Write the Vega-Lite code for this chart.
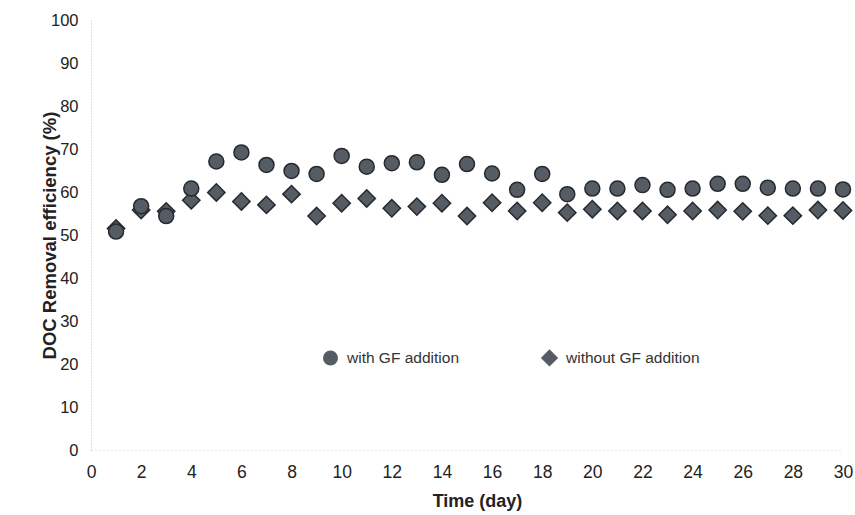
{
  "$schema": "https://vega.github.io/schema/vega-lite/v6.json",
  "width": 752,
  "height": 430,
  "autosize": {"type": "none"},
  "padding": {"left": 91, "top": 20, "right": 12, "bottom": 65},
  "background": "white",
  "config": {
    "view": {"stroke": null},
    "font": "Liberation Sans"
  },
  "data": {
    "values": [
      {"day": 1, "series": "without GF addition", "eff": 51.5},
      {"day": 2, "series": "without GF addition", "eff": 55.8},
      {"day": 3, "series": "without GF addition", "eff": 55.5},
      {"day": 4, "series": "without GF addition", "eff": 58.1},
      {"day": 5, "series": "without GF addition", "eff": 59.9},
      {"day": 6, "series": "without GF addition", "eff": 57.8},
      {"day": 7, "series": "without GF addition", "eff": 57.0},
      {"day": 8, "series": "without GF addition", "eff": 59.5},
      {"day": 9, "series": "without GF addition", "eff": 54.4},
      {"day": 10, "series": "without GF addition", "eff": 57.4},
      {"day": 11, "series": "without GF addition", "eff": 58.5},
      {"day": 12, "series": "without GF addition", "eff": 56.2},
      {"day": 13, "series": "without GF addition", "eff": 56.6},
      {"day": 14, "series": "without GF addition", "eff": 57.4},
      {"day": 15, "series": "without GF addition", "eff": 54.4},
      {"day": 16, "series": "without GF addition", "eff": 57.5},
      {"day": 17, "series": "without GF addition", "eff": 55.6},
      {"day": 18, "series": "without GF addition", "eff": 57.5},
      {"day": 19, "series": "without GF addition", "eff": 55.2},
      {"day": 20, "series": "without GF addition", "eff": 56.0},
      {"day": 21, "series": "without GF addition", "eff": 55.6},
      {"day": 22, "series": "without GF addition", "eff": 55.6},
      {"day": 23, "series": "without GF addition", "eff": 54.7},
      {"day": 24, "series": "without GF addition", "eff": 55.6},
      {"day": 25, "series": "without GF addition", "eff": 55.8},
      {"day": 26, "series": "without GF addition", "eff": 55.5},
      {"day": 27, "series": "without GF addition", "eff": 54.5},
      {"day": 28, "series": "without GF addition", "eff": 54.5},
      {"day": 29, "series": "without GF addition", "eff": 55.8},
      {"day": 30, "series": "without GF addition", "eff": 55.7},
      {"day": 1, "series": "with GF addition", "eff": 50.8},
      {"day": 2, "series": "with GF addition", "eff": 56.7},
      {"day": 3, "series": "with GF addition", "eff": 54.4},
      {"day": 4, "series": "with GF addition", "eff": 60.8},
      {"day": 5, "series": "with GF addition", "eff": 67.1},
      {"day": 6, "series": "with GF addition", "eff": 69.2},
      {"day": 7, "series": "with GF addition", "eff": 66.3},
      {"day": 8, "series": "with GF addition", "eff": 64.9},
      {"day": 9, "series": "with GF addition", "eff": 64.2},
      {"day": 10, "series": "with GF addition", "eff": 68.4},
      {"day": 11, "series": "with GF addition", "eff": 65.9},
      {"day": 12, "series": "with GF addition", "eff": 66.7},
      {"day": 13, "series": "with GF addition", "eff": 66.9},
      {"day": 14, "series": "with GF addition", "eff": 64.0},
      {"day": 15, "series": "with GF addition", "eff": 66.5},
      {"day": 16, "series": "with GF addition", "eff": 64.3},
      {"day": 17, "series": "with GF addition", "eff": 60.5},
      {"day": 18, "series": "with GF addition", "eff": 64.2},
      {"day": 19, "series": "with GF addition", "eff": 59.5},
      {"day": 20, "series": "with GF addition", "eff": 60.8},
      {"day": 21, "series": "with GF addition", "eff": 60.8},
      {"day": 22, "series": "with GF addition", "eff": 61.6},
      {"day": 23, "series": "with GF addition", "eff": 60.5},
      {"day": 24, "series": "with GF addition", "eff": 60.8},
      {"day": 25, "series": "with GF addition", "eff": 61.9},
      {"day": 26, "series": "with GF addition", "eff": 61.9},
      {"day": 27, "series": "with GF addition", "eff": 61.0},
      {"day": 28, "series": "with GF addition", "eff": 60.8},
      {"day": 29, "series": "with GF addition", "eff": 60.8},
      {"day": 30, "series": "with GF addition", "eff": 60.6}
    ]
  },
  "mark": {"type": "point", "filled": true, "fill": "#565c64", "stroke": "#262a2e", "strokeWidth": 1.5, "opacity": 1, "fillOpacity": 1},
  "encoding": {
    "x": {
      "field": "day", "type": "quantitative",
      "scale": {"domain": [0, 30], "nice": false, "zero": false},
      "axis": {
        "title": "Time (day)", "titleFontSize": 18, "titleFontWeight": "bold", "titleColor": "#222", "titlePadding": 12, "titleX": 386,
        "values": [0, 2, 4, 6, 8, 10, 12, 14, 16, 18, 20, 22, 24, 26, 28, 30],
        "labelFontSize": 17.5, "labelColor": "#222", "labelPadding": 13, "labelFlush": false, "labelOverlap": false,
        "ticks": false, "grid": false,
        "domainColor": "#cfcfcf", "domainDash": [1, 3], "domainWidth": 1
      }
    },
    "y": {
      "field": "eff", "type": "quantitative",
      "scale": {"domain": [0, 100], "nice": false},
      "axis": {
        "title": "DOC Removal efficiency (%)", "titleFontSize": 18.5, "titleFontWeight": "bold", "titleColor": "#222", "titlePadding": -9,
        "values": [0, 10, 20, 30, 40, 50, 60, 70, 80, 90, 100],
        "labelFontSize": 16.5, "labelColor": "#222", "labelPadding": 13, "labelFlush": false, "labelOverlap": false,
        "ticks": false, "grid": false,
        "domainColor": "#bdbdbd", "domainDash": [1, 2], "domainWidth": 1
      }
    },
    "shape": {
      "field": "series", "type": "nominal",
      "scale": {"domain": ["with GF addition", "without GF addition"], "range": ["circle", "diamond"]},
      "legend": {
        "title": null, "orient": "none", "legendX": 230, "legendY": 328, "padding": 0,
        "direction": "horizontal", "columns": 2, "columnPadding": 78,
        "labelFontSize": 15.5, "labelColor": "#333", "labelOffset": 7,
        "symbolFillColor": "#565c64", "symbolStrokeColor": "#262a2e", "symbolStrokeWidth": 1.5
      }
    },
    "size": {
      "field": "series", "type": "nominal",
      "scale": {"domain": ["with GF addition", "without GF addition"], "range": [225, 300]},
      "legend": {
        "title": null, "orient": "none", "legendX": 230, "legendY": 328, "padding": 0,
        "direction": "horizontal", "columns": 2, "columnPadding": 78,
        "labelFontSize": 15.5, "labelColor": "#333", "labelOffset": 7,
        "symbolFillColor": "#565c64", "symbolStrokeColor": "#262a2e", "symbolStrokeWidth": 1.5
      }
    },
    "order": {"field": "series", "sort": "descending"}
  }
}
